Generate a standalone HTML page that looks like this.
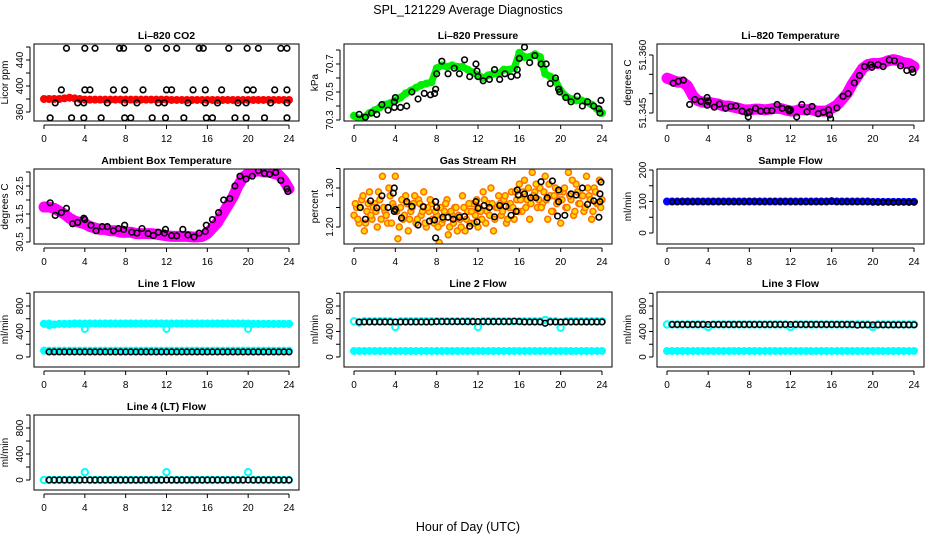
<!DOCTYPE html>
<html><head><meta charset="utf-8"><style>
html,body{margin:0;padding:0;background:#fff;}
svg{display:block;font-family:"Liberation Sans",sans-serif;}
</style></head><body>
<svg id="chart" width="936" height="540" viewBox="0 0 936 540" xmlns="http://www.w3.org/2000/svg">
<text x="468" y="14" text-anchor="middle" font-size="12.5">SPL_121229  Average Diagnostics</text>
<text x="468" y="531" text-anchor="middle" font-size="12.5">Hour of Day (UTC)</text>
</svg>
<script>
const hours=[0,0.5,1,1.5,2,2.5,3,3.5,4,4.5,5,5.5,6,6.5,7,7.5,8,8.5,9,9.5,10,10.5,11,11.5,12,12.5,13,13.5,14,14.5,15,15.5,16,16.5,17,17.5,18,18.5,19,19.5,20,20.5,21,21.5,22,22.5,23,23.5,24];
const xTicks=[0,4,8,12,16,20,24];
// CO2
const co2Band=[380,380,380,380,381,382,381,380,379,379,379,379,379,379,379,379,379,379,379,379,379,379,379,379,379,378.5,378.5,378.5,378.5,378.5,378.5,378.5,378.5,378.5,378.5,378.5,378.5,378.5,378.5,378.5,378.5,378.5,378.5,378.5,378.5,378.5,378.5,378.5,378.5];
const co2PtsX=[2.2,4,5,7.4,7.8,10.2,12,13,15.2,15.6,18.1,19.9,21,23.2,23.8, 1.7,4,4.5,6.8,7.9,9.7,12,12.5,14.6,15.8,17.4,19.9,20.5,22.6,23.8, 1.1,3.3,3.9,6.2,7.9,9.1,11.2,11.8,14.1,15.8,17.0,19.0,19.8,22.2,23.8, 0.6,2.7,3.9,5.6,7.9,8.5,10.6,11.9,13.7,15.9,16.5,18.7,19.8,21.6,23.8];
const co2PtsY=[458,458,458,458,458,458,458,458,458,458,458,458,458,458,458, 394,394,394,394,394,394,394,394,394,394,394,394,394,394,394, 374,374,374,374,374,374,374,374,374,374,374,374,374,374,374, 351,351,351,351,351,351,351,351,351,351,351,351,351,351,351];
// Pressure
const presBand=[70.33,70.31,70.32,70.35,70.37,70.39,70.41,70.42,70.44,70.46,70.49,70.51,70.53,70.55,70.56,70.57,70.67,70.69,70.68,70.69,70.68,70.68,70.66,70.64,70.62,70.60,70.62,70.63,70.63,70.66,70.66,70.67,70.78,70.75,70.75,70.77,70.75,70.63,70.61,70.58,70.51,70.47,70.45,70.44,70.44,70.43,70.41,70.38,70.35];
const presPtsX=[0.5,1.1,1.7,2.2,2.7,3.3,3.9,3.9,4,4.5,5.1,5.6,6.2,6.8,7.4,7.8,7.9,8,8.5,9.1,9.7,10.2,10.7,11.2,11.8,11.9,12,12.5,13.1,13.6,14.1,14.6,15.2,15.8,15.8,16,16.5,17,17.5,18.1,18.6,19.0,19.5,19.8,19.9,20.5,21,21.6,22.1,22.6,23.2,23.7,23.8,23.9];
const presPtsY=[70.34,70.32,70.35,70.34,70.41,70.37,70.39,70.43,70.46,70.39,70.40,70.50,70.45,70.49,70.48,70.49,70.52,70.63,70.72,70.63,70.67,70.63,70.73,70.61,70.70,70.65,70.61,70.58,70.59,70.66,70.59,70.63,70.61,70.62,70.66,70.74,70.82,70.71,70.76,70.70,70.70,70.56,70.60,70.52,70.50,70.46,70.43,70.47,70.40,70.43,70.40,70.38,70.35,70.44];
// Li-820 temperature
const ltBand=[51.3540,51.3535,51.3530,51.3530,51.3520,51.3495,51.3482,51.3478,51.3478,51.3475,51.3473,51.3468,51.3468,51.3465,51.3462,51.3458,51.3458,51.3460,51.3460,51.3458,51.3460,51.3462,51.3462,51.3458,51.3455,51.3455,51.3460,51.3458,51.3460,51.3455,51.3455,51.3455,51.3462,51.3470,51.3485,51.3500,51.3525,51.3545,51.3565,51.3575,51.3578,51.3578,51.3580,51.3585,51.3588,51.3585,51.3580,51.3578,51.3570];
const ltPtsX=[0.6,1.1,1.6,2.2,2.7,3.3,3.9,3.9,4,4.6,5.1,5.7,6.2,6.7,7.3,7.8,7.9,8,8.6,9.1,9.7,10.2,10.7,11.2,11.8,11.9,12,12.6,13.1,13.6,14.1,14.7,15.2,15.7,15.8,15.9,16.5,17.1,17.6,18.2,18.7,19.2,19.8,19.9,20.5,21,21.6,22.1,22.7,23.3,23.8,23.9];
const ltPtsY=[51.3527,51.3532,51.3535,51.3472,51.3485,51.3480,51.3490,51.3470,51.3480,51.3465,51.3473,51.3462,51.3467,51.3468,51.3455,51.3450,51.3440,51.3453,51.3462,51.3455,51.3456,51.3456,51.3472,51.3462,51.3460,51.3455,51.3458,51.3440,51.3472,51.3453,51.3467,51.3448,51.3452,51.3458,51.3445,51.3435,51.3463,51.3493,51.3500,51.3528,51.3547,51.3570,51.3575,51.3568,51.3575,51.3570,51.3587,51.3585,51.3572,51.3560,51.3563,51.3555];
// Ambient
const ambBand=[31.75,31.75,31.7,31.6,31.5,31.35,31.25,31.2,31.15,31.05,31.0,30.95,30.95,30.9,30.9,30.85,30.85,30.85,30.8,30.8,30.8,30.8,30.78,30.75,30.72,30.7,30.7,30.7,30.7,30.68,30.68,30.7,30.8,31.0,31.2,31.5,31.8,32.1,32.5,32.8,32.95,33.0,33.05,33.0,33.0,32.95,32.9,32.7,32.4];
const ambPtsX=[0.6,1.1,1.7,2.2,2.8,3.3,3.9,4,4.6,5.1,5.7,6.2,6.8,7.3,7.8,7.9,8.6,9.1,9.6,10.2,10.7,11.2,11.8,11.9,12.5,13,13.6,14.1,14.7,15.2,15.8,15.9,16.5,17.1,17.6,18.2,18.7,19.2,19.8,20.4,21,21.6,22.1,22.7,23.2,23.8,23.9];
const ambPtsY=[31.9,31.45,31.55,31.7,31.15,31.2,31.35,31.3,31.1,30.9,31.05,31.05,30.9,30.98,30.95,31.1,30.85,30.82,30.98,30.8,30.73,30.85,30.82,30.95,30.73,30.72,30.95,30.75,30.68,30.82,30.88,31.1,31.3,31.55,32.0,32.05,32.5,32.85,32.75,32.85,33.05,32.95,32.92,32.98,32.7,32.4,32.3];
// RH
const rhScatter=[1.23,1.25,1.21,1.27,1.19,1.24,1.29,1.22,1.26, 1.20,1.27,1.33,1.24,1.21,1.28,1.26,1.33, 1.17,1.25,1.22,1.28,1.19,1.24,1.26,1.21, 1.27,1.23,1.29,1.20,1.24,1.26,1.21,1.23, 1.16,1.21,1.24,1.27,1.20,1.23,1.25,1.19, 1.22,1.28,1.19,1.24,1.21,1.26,1.23,1.20, 1.24,1.29,1.21,1.26,1.30,1.19,1.25,1.28, 1.23,1.27,1.21,1.25,1.29,1.22,1.27,1.31, 1.24,1.32,1.27,1.22,1.34,1.29,1.25,1.30, 1.26,1.33,1.22,1.28,1.24,1.30,1.27,1.21, 1.29,1.25,1.34,1.27,1.23,1.31,1.26,1.28, 1.24,1.33,1.28,1.22,1.30,1.26,1.32,1.27];
const rhScatter2=[1.26,1.22,1.25,1.28,1.21,1.26,1.23,1.25, 1.24,1.29,1.22,1.25,1.23,1.30,1.21,1.25, 1.24,1.20,1.27,1.23,1.26,1.22,1.25,1.28, 1.22,1.26,1.24,1.21,1.25,1.27,1.22,1.24, 1.20,1.25,1.22,1.26,1.18,1.24,1.21,1.25, 1.23,1.20,1.25,1.22,1.26,1.24,1.21,1.27, 1.25,1.22,1.27,1.24,1.23,1.26,1.22,1.25, 1.26,1.24,1.28,1.22,1.26,1.25,1.29,1.24, 1.27,1.29,1.25,1.30,1.26,1.28,1.31,1.27, 1.25,1.29,1.27,1.31,1.24,1.28,1.26,1.29, 1.27,1.30,1.25,1.28,1.32,1.24,1.29,1.26, 1.28,1.25,1.30,1.27,1.24,1.29,1.26,1.25];
const rhPtsX=[0.6,1.1,1.6,2.2,2.7,3.3,3.8,3.9,3.9,4,4.6,5.1,5.6,6.2,6.7,7.3,7.8,7.9,7.9,8,8.6,9.1,9.6,10.2,10.7,11.2,11.8,11.9,12,12.6,13.1,13.6,14.1,14.7,15.2,15.7,15.8,15.9,16.5,17.1,17.6,18.1,18.7,19.2,19.7,19.8,19.8,20.4,21,21.5,22.1,22.6,23.2,23.7,23.8,23.8,23.9];
const rhPtsY=[1.25,1.22,1.267,1.249,1.28,1.25,1.287,1.30,1.24,1.245,1.223,1.265,1.253,1.205,1.252,1.215,1.218,1.265,1.172,1.25,1.225,1.225,1.22,1.225,1.227,1.202,1.265,1.213,1.248,1.255,1.25,1.226,1.255,1.253,1.23,1.24,1.295,1.282,1.285,1.275,1.275,1.316,1.275,1.318,1.228,1.265,1.295,1.23,1.285,1.282,1.30,1.258,1.267,1.225,1.285,1.265,1.315];
// Flows
const sampleBlue=[100,100,100,100,100,100,100,100,100,100,100,100,100,100,100,100,100,100,100,100,100,100,100,100,100,100,100,100,100,100,100,100,101,100,100,100,100,100,100,100,99,99,99,99,99,99,99,99,99];
const sampleBlack=[100,99,99,100,99,99,100,99,99,100,99,99,99,99,99,99,100,100,99,99,100,100,99,100,99,99,99,99,99,99,99,99,100,99,99,99,99,99,99,99,99,98,98,98,97,98,98,97,98];
const l1CyanHigh=[520,500,510,520,520,520,525,525,440,525,525,525,525,525,525,525,525,525,525,525,525,525,525,525,440,525,525,525,525,525,525,525,525,525,525,525,525,525,525,525,440,520,520,520,520,520,520,520,520];
const l1CyanLow=[100,100,100,100,100,100,100,100,100,100,100,100,100,100,100,100,100,100,100,100,100,100,100,100,100,100,100,100,100,100,100,100,100,100,100,100,100,100,100,100,100,100,100,100,100,100,100,100,100];
const l1Black=[80,80,80,80,80,80,80,80,80,80,80,80,80,80,80,80,80,80,80,80,80,80,80,80,80,80,80,80,80,80,80,80,80,80,80,80,80,80,80,80,80,80,80,80,80,80,80,80,80];
const l2CyanHigh=[560,540,560,560,560,560,560,560,470,560,560,560,560,560,560,560,560,560,560,560,560,560,560,560,470,560,560,560,560,560,560,560,560,560,560,560,560,580,560,560,460,560,560,560,560,560,560,560,560];
const l2CyanLow=[95,95,95,95,95,95,95,95,95,95,95,95,95,95,95,95,95,95,95,95,95,95,95,95,95,95,95,95,95,95,95,95,95,95,95,95,95,95,95,95,95,95,95,95,95,95,95,95,95];
const l2Black=[550,550,550,550,550,550,550,550,550,550,550,550,550,550,550,550,555,555,555,555,555,555,555,555,555,555,555,555,555,555,555,560,555,550,550,550,550,530,550,550,550,550,550,550,550,550,550,550,550];
const l3CyanHigh=[510,510,510,510,510,510,510,510,470,510,510,510,510,510,510,510,510,510,510,510,510,510,510,510,470,510,510,510,510,510,510,510,510,510,510,510,510,510,510,510,470,510,510,510,510,510,510,510,510];
const l3CyanLow=[95,95,95,95,95,95,95,95,95,95,95,95,95,95,95,95,95,95,95,95,95,95,95,95,95,95,95,95,95,95,95,95,95,95,95,95,95,95,95,95,95,95,95,95,95,95,95,95,95];
const l3Black=[510,510,510,510,510,510,510,510,510,510,510,510,510,510,510,510,510,510,510,510,510,510,510,510,510,510,510,510,510,510,510,510,510,510,510,510,510,500,505,505,505,505,505,505,505,505,505,505,505];
const l4Cyan=[0,0,0,0,0,0,0,0,120,0,0,0,0,0,0,0,0,0,0,0,0,0,0,0,120,0,0,0,0,0,0,0,0,0,0,0,0,0,0,0,120,0,0,0,0,0,0,0,0];
const l4Black=[0,0,0,0,0,0,0,0,0,0,0,0,0,0,0,0,0,0,0,0,0,0,0,0,0,0,0,0,0,0,0,0,0,0,0,0,0,0,0,0,0,0,0,0,0,0,0,0,0];
const flowTicks=[0,200,400,600,800,1000];
const flowLabels=["0","","400","","800",""];

const svg=document.getElementById('chart');
const NS='http://www.w3.org/2000/svg';
function el(tag,parent,attrs){const e=document.createElementNS(NS,tag);for(const k in attrs)e.setAttribute(k,attrs[k]);parent.appendChild(e);return e;}
const cols=[[34,299],[344,612],[657,924]];
const rows=[[44,121],[169,244],[292,367],[415,490]];

function panel(o){
  const [L,R]=cols[o.c],[T,B]=rows[o.r];
  const x0=L+10,x1=R-10;
  const xs=h=>x0+h/24*(x1-x0);
  const ys=v=>o.p1+(v-o.v1)*(o.p2-o.p1)/(o.v2-o.v1);
  const g=el('g',svg,{});
  
  
  const clip=el('clipPath',g,{id:'cl'+o.name});
  el('rect',clip,{x:L,y:T,width:R-L,height:B-T});
  const plot=el('g',g,{'clip-path':'url(#cl'+o.name+')'});
  
  
  o.draw(plot,xs,ys);
  const box=el('rect',g,{x:L,y:T,width:R-L,height:B-T,fill:'none',stroke:'#000','stroke-width':1});
  
  
  const t=el('text',g,{x:(L+R)/2,y:T-5,'text-anchor':'middle','font-size':'10.5','font-weight':'bold'});
  t.textContent=o.title;
  
  
  el('line',g,{x1:xs(0),x2:xs(24),y1:B+4,y2:B+4,stroke:'#000'});
  xTicks.forEach(h=>{
    el('line',g,{x1:xs(h),x2:xs(h),y1:B+4,y2:B+8,stroke:'#000'});
    const tx=el('text',g,{x:xs(h),y:B+21,'text-anchor':'middle','font-size':'10'});
    tx.textContent=String(h);
    
    
  });
  const yt=o.ticks.filter(v=>ys(v)>=T-1&&ys(v)<=B+1);
  el('line',g,{x1:L-4,x2:L-4,y1:ys(yt[0]),y2:ys(yt[yt.length-1]),stroke:'#000'});
  o.ticks.forEach((v,i)=>{
    const py=ys(v); if(py<T-1||py>B+1)return;
    el('line',g,{x1:L-8,x2:L-4,y1:py,y2:py,stroke:'#000'});
    if(o.labels[i]){
      const tx=el('text',g,{x:L-11,y:py,'text-anchor':'middle','font-size':'10',transform:`rotate(-90 ${L-11} ${py})`});
      tx.textContent=o.labels[i];
      
      
    }
  });
  const yl=el('text',g,{x:L-26,y:(T+B)/2,'text-anchor':'middle','font-size':'10',transform:`rotate(-90 ${L-26} ${(T+B)/2})`});
  yl.textContent=o.ylab;
  
  
}
function band(p,xs,ys,xArr,vals,color,w,name){
  const pl=el('polyline',p,{points:vals.map((v,i)=>xs(xArr[i])+','+ys(v)).join(' '),fill:'none',stroke:color,'stroke-width':w,'stroke-linejoin':'round','stroke-linecap':'round'});
  
  
  vals.forEach((v,i)=>{
    const c=el('circle',p,{cx:xs(xArr[i]),cy:ys(v),r:3,fill:'none',stroke:color,'stroke-width':2});
    
    
  });
}
function pts(p,xs,ys,xArr,vals,color,name,fill,sw,r){
  vals.forEach((v,i)=>{
    const c=el('circle',p,{cx:xs(xArr[i]),cy:ys(v),r:r||2.8,fill:fill||'none',stroke:color,'stroke-width':sw||1.6});
    
    
  });
}
const q1=rhScatter.map((_,i)=>i*0.25), q2=rhScatter2.map((_,i)=>0.125+i*0.25);

panel({name:'co2',title:'Li\u2013820 CO2',ylab:'Licor ppm',c:0,r:0,v1:360,p1:112,v2:440,p2:60,ticks:[360,380,400,420,440,460],labels:['360','','400','','440',''],
 draw:(p,xs,ys)=>{band(p,xs,ys,hours,co2Band,'#ff0000',5,'co2');pts(p,xs,ys,co2PtsX,co2PtsY,'#000','co2-sample-point');}});
panel({name:'pressure',title:'Li\u2013820 Pressure',ylab:'kPa',c:1,r:0,v1:70.3,p1:120,v2:70.7,p2:64,ticks:[70.3,70.4,70.5,70.6,70.7,70.8],labels:['70.3','','70.5','','70.7',''],
 draw:(p,xs,ys)=>{band(p,xs,ys,hours,presBand,'#00ee00',7,'pressure');pts(p,xs,ys,presPtsX,presPtsY,'#000','pressure-sample-point');}});
panel({name:'li820-temp',title:'Li\u2013820 Temperature',ylab:'degrees C',c:2,r:0,v1:51.345,p1:113,v2:51.36,p2:55,ticks:[51.345,51.350,51.355,51.360],labels:['51.345','','','51.360'],
 draw:(p,xs,ys)=>{band(p,xs,ys,hours,ltBand,'#ff00ff',11,'li820-temp');pts(p,xs,ys,ltPtsX,ltPtsY,'#000','li820-temp-sample-point');}});
panel({name:'ambient',title:'Ambient Box Temperature',ylab:'degrees C',c:0,r:1,v1:30.5,p1:242,v2:32.5,p2:186,ticks:[30.5,31,31.5,32,32.5,33],labels:['30.5','','31.5','','32.5',''],
 draw:(p,xs,ys)=>{band(p,xs,ys,hours,ambBand,'#ff00ff',11,'ambient');pts(p,xs,ys,ambPtsX,ambPtsY,'#000','ambient-sample-point');}});
panel({name:'rh',title:'Gas Stream RH',ylab:'percent',c:1,r:1,v1:1.2,p1:227,v2:1.3,p2:188,ticks:[1.20,1.25,1.30,1.35],labels:['1.20','','1.30',''],
 draw:(p,xs,ys)=>{pts(p,xs,ys,q1,rhScatter,'#ff7000','rh-scatter-point','#ffd800',1.5,3);pts(p,xs,ys,q2,rhScatter2,'#ff7000','rh-scatter-point','#ffd800',1.5,3);pts(p,xs,ys,rhPtsX,rhPtsY,'#000','rh-sample-point');}});
panel({name:'sample-flow',title:'Sample Flow',ylab:'ml/min',c:2,r:1,v1:0,p1:233,v2:200,p2:170,ticks:[0,50,100,150,200],labels:['0','','100','','200'],
 draw:(p,xs,ys)=>{band(p,xs,ys,hours,sampleBlue,'#0000ff',5,'sample-flow');pts(p,xs,ys,hours.slice(1),sampleBlack.slice(1),'#000','sample-flow-point',null,1.6,2.5);}});
panel({name:'line1',title:'Line 1 Flow',ylab:'ml/min',c:0,r:2,v1:0,p1:357,v2:800,p2:306,ticks:flowTicks,labels:flowLabels,
 draw:(p,xs,ys)=>{band(p,xs,ys,hours,l1CyanHigh.map(v=>v>500?v:525),'#00ffff',6,'line1-high');pts(p,xs,ys,hours,l1CyanHigh,'#00ffff','line1-high-point',null,2,3);band(p,xs,ys,hours,l1CyanLow,'#00ffff',5,'line1-low');pts(p,xs,ys,hours.slice(1),l1Black.slice(1),'#000','line1-point');}});
panel({name:'line2',title:'Line 2 Flow',ylab:'ml/min',c:1,r:2,v1:0,p1:357,v2:800,p2:306,ticks:flowTicks,labels:flowLabels,
 draw:(p,xs,ys)=>{pts(p,xs,ys,hours,l2CyanHigh,'#00ffff','line2-high-point',null,2,3.2);band(p,xs,ys,hours,l2CyanLow,'#00ffff',6,'line2-low');pts(p,xs,ys,hours.slice(1),l2Black.slice(1),'#000','line2-point');}});
panel({name:'line3',title:'Line 3 Flow',ylab:'ml/min',c:2,r:2,v1:0,p1:357,v2:800,p2:306,ticks:flowTicks,labels:flowLabels,
 draw:(p,xs,ys)=>{pts(p,xs,ys,hours,l3CyanHigh,'#00ffff','line3-high-point',null,2,3.2);band(p,xs,ys,hours,l3CyanLow,'#00ffff',6,'line3-low');pts(p,xs,ys,hours.slice(1),l3Black.slice(1),'#000','line3-point');}});
panel({name:'line4',title:'Line 4 (LT) Flow',ylab:'ml/min',c:0,r:3,v1:0,p1:480,v2:800,p2:428,ticks:flowTicks,labels:flowLabels,
 draw:(p,xs,ys)=>{pts(p,xs,ys,hours,l4Cyan,'#00ffff','line4-cyan-point',null,2,3.2);pts(p,xs,ys,hours.slice(1),l4Black.slice(1),'#000','line4-point');}});
</script>
</body></html>
